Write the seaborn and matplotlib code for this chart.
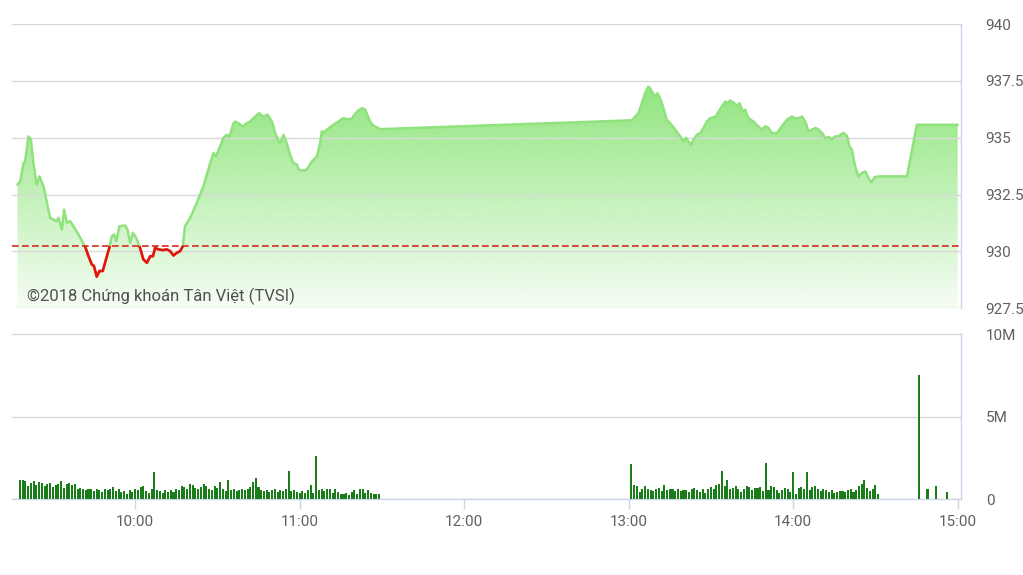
import numpy as np
import matplotlib.pyplot as plt
from matplotlib.patches import Rectangle
import seaborn as sns

# VN-Index intraday, x = minutes after 09:00
price_min = [
    17.1, 18.1, 19.3, 19.9, 21.1, 22.0, 22.9, 24.1, 25.1, 26.6, 29.0, 30.2, 31.4, 32.0,
    33.3, 34.1, 35.1, 36.3, 37.5, 39.3, 41.8, 43.0, 44.2, 45.0, 46.0, 47.0, 48.2, 49.7,
    50.6, 51.5, 52.3, 53.1, 54.3, 56.4, 57.2, 58.2, 59.2, 60.4, 61.8, 63.0, 64.3, 65.5,
    66.5, 67.3, 68.5, 70.1, 71.6, 72.8, 74.0, 75.2, 76.4, 77.4, 78.2, 80.1, 82.5, 84.9,
    87.4, 88.6, 89.5, 92.2, 93.4, 94.4, 95.9, 96.5, 97.7, 98.9, 99.5, 100.7, 101.9, 103.8,
    105.2, 106.8, 108.3, 109.9, 111.1, 112.3, 112.9, 114.1, 115.3, 116.5, 117.7, 119.0,
    119.6, 121.2, 122.6, 124.5, 126.3, 127.5, 128.1, 128.9, 129.9, 132.3, 134.2, 135.8,
    137.2, 139.0, 139.9, 141.4, 143.0, 143.9, 145.7, 146.9, 149.4, 150.0,
    240.0, 241.2, 242.4, 243.6, 244.8, 246.0, 247.2, 247.8, 248.8, 249.7, 250.5, 251.5,
    252.7, 253.9, 255.1, 257.0, 258.8, 260.0, 261.0, 261.8, 262.7, 263.6, 264.9, 266.1,
    267.3, 268.5, 269.7, 271.6, 272.8, 274.0, 275.2, 276.0, 277.0, 278.2, 279.5, 280.4,
    281.7, 282.5, 283.7, 285.5, 287.3, 288.6, 289.8, 291.0, 292.2, 294.1, 295.9, 297.7,
    299.5, 300.7, 301.9, 303.2, 304.4, 305.6, 306.8, 308.1, 309.3, 310.5, 311.7, 312.9,
    314.1, 315.4, 316.5, 318.3, 319.6, 320.5, 321.4, 322.6, 323.8, 325.1, 326.3, 327.5,
    328.4, 329.9, 331.7, 341.5, 345.1, 360.0,
]
price = [
    932.94, 933.08, 933.89, 933.96, 935.06, 934.91, 933.89, 932.94, 933.30, 932.86, 931.48,
    931.40, 931.33, 931.48, 930.96, 931.84, 931.26, 931.33, 931.11, 930.75, 930.21, 929.79,
    929.43, 929.36, 928.89, 929.14, 929.14, 929.79, 930.16, 930.67, 930.75, 930.45, 931.11,
    931.14, 930.96, 930.38, 930.82, 930.60, 930.16, 929.65, 929.50, 929.79, 929.79, 930.16,
    930.09, 930.06, 930.09, 930.01, 929.82, 929.94, 930.01, 930.23, 931.11, 931.48, 932.14,
    932.86, 933.89, 934.33, 934.18, 934.99, 935.13, 935.06, 935.64, 935.71, 935.64, 935.53,
    935.50, 935.64, 935.71, 935.93, 936.08, 935.93, 936.01, 935.71, 935.21, 934.84, 934.77,
    935.13, 934.77, 934.25, 933.89, 933.82, 933.60, 933.55, 933.60, 933.96, 934.18, 934.77,
    935.28, 935.23, 935.35, 935.57, 935.71, 935.86, 935.82, 935.82, 936.01, 936.20, 936.30,
    936.23, 935.71, 935.53, 935.38, 935.38,
    935.76, 935.76, 935.93, 936.08, 936.52, 936.96, 937.25, 937.18, 936.96, 936.81, 936.96,
    936.74, 936.30, 935.79, 935.64, 935.35, 935.06, 934.84, 934.99, 934.84, 934.69, 934.91,
    935.13, 935.21, 935.43, 935.71, 935.86, 935.91, 936.15, 936.37, 936.59, 936.52, 936.64,
    936.55, 936.40, 936.52, 936.15, 936.23, 935.86, 935.71, 935.50, 935.35, 935.50, 935.43,
    935.21, 935.21, 935.50, 935.79, 935.93, 935.86, 935.86, 935.93, 935.71, 935.28, 935.35,
    935.43, 935.35, 935.21, 934.99, 935.03, 934.94, 935.06, 935.06, 935.21, 935.09, 934.62,
    934.47, 933.74, 933.30, 933.45, 933.52, 933.23, 933.04, 933.28, 933.30, 933.30, 935.57,
    935.57,
]
ref_price = 930.22

# volume in millions, one bar per minute
vol_am_start = 18  # 09:18
vol_am = [
    1.15, 1.15, 1.10, 0.80, 1.00, 1.10, 0.85, 1.05, 1.00, 0.80, 0.95, 1.00, 0.75, 0.85,
    0.95, 1.10, 0.70, 0.90, 1.00, 0.85, 0.90, 0.60, 0.70, 0.65, 0.55, 0.60, 0.65, 0.50,
    0.60, 0.55, 0.45, 0.65, 0.55, 0.60, 0.75, 0.50, 0.60, 0.45, 0.50, 0.35, 0.55, 0.45,
    0.60, 0.55, 0.75, 0.80, 0.50, 0.40, 0.65, 1.65, 0.55, 0.50, 0.40, 0.55, 0.45, 0.55,
    0.45, 0.60, 0.55, 0.80, 0.75, 0.60, 0.90, 0.85, 0.70, 0.60, 0.75, 0.90, 0.80, 0.65,
    0.55, 0.80, 0.70, 1.05, 0.60, 0.50, 1.15, 0.55, 0.60, 0.50, 0.55, 0.60, 0.55, 0.65,
    0.75, 1.05, 1.30, 0.75, 0.55, 0.50, 0.55, 0.45, 0.55, 0.60, 0.45, 0.55, 0.50, 0.60,
    1.70, 0.50, 0.55, 0.45, 0.40, 0.50, 0.40, 0.55, 0.85, 0.40, 2.60, 0.55, 0.65, 0.50,
    0.60, 0.65, 0.40, 0.60, 0.45, 0.35, 0.30, 0.40, 0.25, 0.45, 0.55, 0.30, 0.60, 0.65,
    0.40, 0.55, 0.40, 0.35, 0.30, 0.30, 0.03,
]
vol_pm_start = 241  # 13:01
vol_pm = [
    2.15, 0.85, 0.80, 0.45, 0.60, 0.80, 0.65, 0.55, 0.50, 0.60, 0.70, 0.50, 0.85, 0.55,
    0.65, 0.60, 0.50, 0.65, 0.50, 0.55, 0.55, 0.45, 0.60, 0.70, 0.55, 0.45, 0.60, 0.40,
    0.65, 0.75, 0.60, 0.85, 0.90, 1.70, 0.80, 1.15, 0.60, 0.70, 0.80, 0.60, 0.45, 0.60,
    0.80, 0.75, 0.55, 0.70, 0.70, 0.75, 0.50, 2.20, 0.55, 0.80, 0.75, 0.55, 0.40, 0.55,
    0.70, 0.65, 0.45, 1.65, 0.35, 0.70, 0.75, 0.60, 1.65, 0.55, 0.75, 0.80, 0.60, 0.50,
    0.60, 0.55, 0.45, 0.55, 0.40, 0.45, 0.50, 0.50, 0.45, 0.55, 0.65, 0.45, 0.55, 0.80,
    0.95, 1.15, 0.70, 0.50, 0.60, 0.85, 0.30,
]
vol_atc_min = [338, 346, 349, 352, 356, 360]
vol_atc = [0.03, 7.55, 0.62, 0.80, 0.42, 0.03]

price_ticks = [927.5, 930, 932.5, 935, 937.5, 940]
price_labels = ["927.5", "930", "932.5", "935", "937.5", "940"]
vol_ticks = [0, 5, 10]
vol_labels = ["0", "5M", "10M"]
time_ticks = [60, 120, 180, 240, 300, 360]
time_labels = ["10:00", "11:00", "12:00", "13:00", "14:00", "15:00"]

sns.set_theme(style="white")
plt.rcParams["font.family"] = ["Roboto", "DejaVu Sans"]

GRID = "#d9d9d9"
AXIS = "#ccd6eb"
TEXT = "#606060"
GREEN_LINE = "#8fe27c"
GREEN_FILL = np.array([142, 229, 123]) / 255
XMIN, XMAX = 15.1, 361.1
PMIN, PMAX = 927.5, 940

fig = plt.figure(figsize=(10.23, 5.75), dpi=100)
ax = fig.add_axes([12 / 1023, 1 - 308.3 / 575, 948.7 / 1023, 284.3 / 575])
axv = fig.add_axes([12 / 1023, 1 - 499.3 / 575, 948.7 / 1023, 166.6 / 575])

# ---- price panel
fill = ax.fill_between(price_min, price, PMIN, color="none", lw=0)
grad = np.zeros((256, 1, 4))
grad[:, 0, :3] = GREEN_FILL
grad[:, 0, 3] = np.linspace(1.0, 0.08, 256)
img = ax.imshow(grad, extent=[XMIN, XMAX, PMIN, 937.5], aspect="auto",
                origin="upper", zorder=1, interpolation="bilinear")
img.set_clip_path(fill.get_paths()[0], transform=ax.transData)

sns.lineplot(x=price_min, y=price, ax=ax, color=GREEN_LINE, lw=1.8, zorder=3, sort=False)
sns.lineplot(x=price_min, y=price, ax=ax, color="#e8120c", lw=1.9, zorder=4, sort=False)
below = Rectangle((XMIN, PMIN), XMAX - XMIN, ref_price - PMIN, transform=ax.transData)
ax.lines[-1].set_clip_path(below)

ax.axhline(ref_price, color="#d9281e", lw=1.2, dashes=(4, 2), zorder=5)

ax.set_xlim(XMIN, XMAX)
ax.set_ylim(PMIN, PMAX)
ax.set_yticks(price_ticks)
ax.set_yticklabels(price_labels)
ax.yaxis.tick_right()
ax.tick_params(axis="y", length=0, pad=18, labelsize=11, labelcolor=TEXT)
ax.set_xticks([])
ax.set_axisbelow("line")
ax.grid(axis="y", color=GRID, lw=1.0)
for side in ["left", "top", "bottom"]:
    ax.spines[side].set_visible(False)
ax.spines["right"].set_color(AXIS)
ax.spines["right"].set_linewidth(1.0)
ax.set_xlabel("")
ax.set_ylabel("")

ax.text(15 / 948.7, 12 / 284.3, "©2018 Chứng khoán Tân Việt (TVSI)", transform=ax.transAxes,
        fontsize=12, color="#505050", va="center", ha="left", zorder=6)

# ---- volume panel
am_x = np.arange(len(vol_am)) + vol_am_start
pm_x = np.arange(len(vol_pm)) + vol_pm_start
bar_color = "#1a7d1a"
for xs, vs in [(am_x, vol_am), (pm_x, vol_pm), (vol_atc_min, vol_atc)]:
    axv.bar(xs, vs, width=0.75, color=bar_color, lw=0, zorder=3)

axv.set_xlim(XMIN, XMAX)
axv.set_ylim(0, 10.08)
axv.set_yticks(vol_ticks)
axv.set_yticklabels(vol_labels)
axv.yaxis.tick_right()
axv.tick_params(axis="y", length=0, pad=18, labelsize=11, labelcolor=TEXT)
axv.set_xticks(time_ticks)
axv.set_xticklabels(time_labels)
axv.tick_params(axis="x", length=7, width=1, color=AXIS, pad=4, labelsize=11,
                labelcolor=TEXT, bottom=True)
axv.grid(axis="y", color=GRID, lw=1.0)
axv.set_axisbelow(True)
for side in ["left", "top"]:
    axv.spines[side].set_visible(False)
for side in ["right", "bottom"]:
    axv.spines[side].set_color(AXIS)
    axv.spines[side].set_linewidth(1.0)

fig.savefig("out.png", dpi=100)
